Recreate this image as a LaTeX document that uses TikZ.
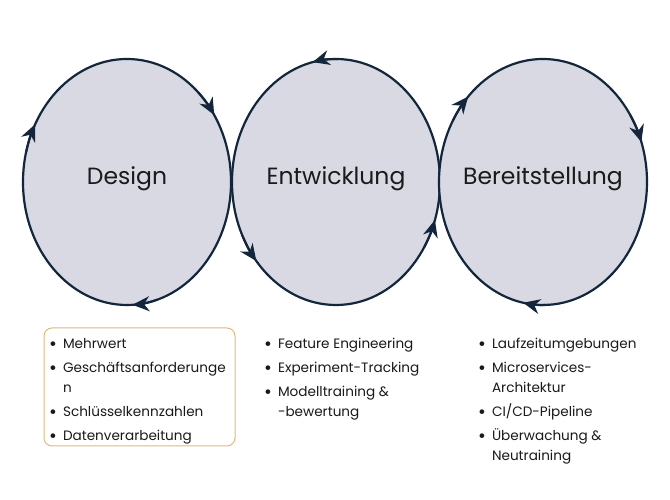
\documentclass[tikz,border=0pt]{standalone}
\usepackage{fontspec}
\setmainfont{Poppins}
\usetikzlibrary{shapes.geometric,arrows.meta}

\definecolor{linie}{HTML}{14263C}
\definecolor{flaeche}{HTML}{D8D9E3}
\definecolor{schrift}{HTML}{1A1A1A}
\definecolor{rahmen}{HTML}{DDBB7E}

\newcommand{\punkt}{\raisebox{-1.2pt}{\fontsize{19}{20}\selectfont •}}

\tikzset{
	phase/.style={ellipse, draw=linie, fill=flaeche, line width=2.2pt,
		minimum width=208pt, minimum height=246pt, inner sep=0pt},
	titel/.style={text=schrift, yshift=3pt, font=\fontsize{23.5}{28}\selectfont},
	spitze/.style={linie, line width=2pt, -{Stealth[length=17pt, width=15pt]}},
	liste/.style={anchor=base west, inner sep=0pt, text=schrift,
		font=\fontsize{13.6}{20}\selectfont}
}

\begin{document}
\begin{tikzpicture}[x=1pt, y=1pt]
	\useasboundingbox[fill=white] (0, 0) rectangle (670, 500);

	\node[phase, label={[titel]center:Design}] at (127, 318) (design) {};
	\node[phase, label={[titel]center:Entwicklung}] at (336, 318) (entw) {};
	\node[phase, label={[titel]center:Bereitstellung}] at (543, 318) (bereit) {};

	% Pfeile im Uhrzeigersinn
	\foreach \w in {33, 152, 273}
		\draw[spitze] (design.center) ++(\w+14:104 and 123)
			arc[start angle=\w+14, end angle=\w, x radius=104, y radius=123];
	\foreach \w in {19, 136, 259}
		\draw[spitze] (bereit.center) ++(\w+14:104 and 123)
			arc[start angle=\w+14, end angle=\w, x radius=104, y radius=123];
	% Pfeile gegen den Uhrzeigersinn
	\foreach \w in {103, 220, 342}
		\draw[spitze] (entw.center) ++(\w-14:104 and 123)
			arc[start angle=\w-14, end angle=\w, x radius=104, y radius=123];

	\draw[rahmen, line width=1pt, rounded corners=8pt] (44, 54) rectangle (235, 172);

	\node[liste] at (49, 151) (l1) {\begin{tabular}[t]{@{}l@{\hspace{6pt}}l@{}}
		\punkt & Mehrwert \\[4pt]
		\punkt & Geschäftsanforderunge \\
		& n \\[4pt]
		\punkt & Schlüsselkennzahlen \\[4pt]
		\punkt & Datenverarbeitung
	\end{tabular}};
	\node[liste] at (264, 151) (l2) {\begin{tabular}[t]{@{}l@{\hspace{6pt}}l@{}}
		\punkt & Feature Engineering \\[4pt]
		\punkt & Experiment-Tracking \\[4pt]
		\punkt & Modelltraining \& \\
		& -bewertung
	\end{tabular}};
	\node[liste] at (478, 151) (l3) {\begin{tabular}[t]{@{}l@{\hspace{6pt}}l@{}}
		\punkt & Laufzeitumgebungen \\[4pt]
		\punkt & Microservices- \\
		& Architektur \\[4pt]
		\punkt & CI/CD-Pipeline \\[4pt]
		\punkt & Überwachung \& \\
		& Neutraining
	\end{tabular}};
\end{tikzpicture}
\end{document}
